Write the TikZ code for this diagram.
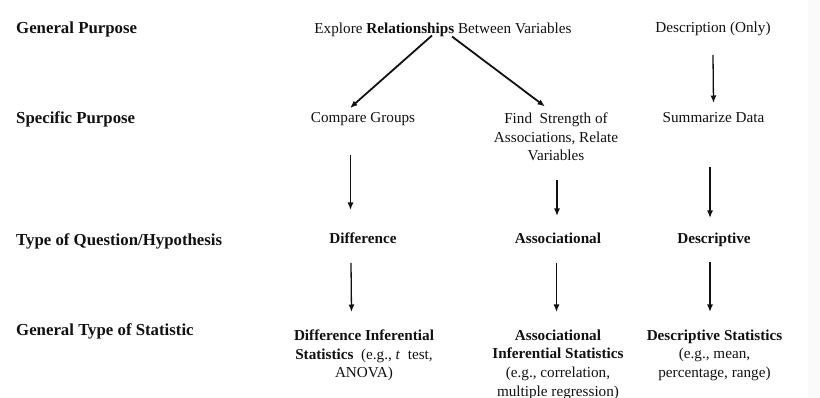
\documentclass[tikz,border=0pt]{standalone}
\usepackage{fontspec}
\setmainfont{Liberation Serif}
\usetikzlibrary{arrows.meta,calc}
\definecolor{ink}{HTML}{111111}
\begin{document}
\begin{tikzpicture}[x=1pt,y=1pt,
  lab/.style={anchor=base west,inner sep=0pt,font=\fontsize{16.8}{20}\selectfont\bfseries,text=ink},
  txt/.style={anchor=base,inner sep=0pt,font=\fontsize{15.2}{18.7}\selectfont,text=ink},
  mtxt/.style={anchor=north,inner sep=0pt,align=center,font=\fontsize{15.2}{18.7}\selectfont,text=ink},
  arr/.style={-{Latex[length=7.5pt,width=6pt]},line width=1.3pt,draw=ink},
  darr/.style={arr,line width=1.8pt}]
\useasboundingbox (0,0) rectangle (820,-398);
\fill[black!2] (808,0) rectangle (820,-398);
% row labels
\node[lab] (l1) at (16,-34) {General Purpose};
\node[lab] (l2) at (16,-124) {Specific Purpose};
\node[lab] (l3) at (16,-246) {Type of Question/Hypothesis};
\node[lab] (l4) at (16,-336) {General Type of Statistic};
% content
\node[txt] (explore) at (443,-33.5) {Explore \textbf{Relationships} Between Variables};
\node[txt] (desc) at (713,-33) {Description (Only)};
\node[txt] (compare) at (363,-123) {Compare Groups};
\node[mtxt] (find) at (556,-112.5) {Find\ \ Strength of\\Associations, Relate\\Variables};
\node[txt] (summ) at (713.5,-123) {Summarize Data};
\node[txt,font=\fontsize{15.2}{18.7}\selectfont\bfseries] (diff) at (363,-244) {Difference};
\node[txt,font=\fontsize{15.2}{18.7}\selectfont\bfseries] (assoc) at (558,-244) {Associational};
\node[txt,font=\fontsize{15.2}{18.7}\selectfont\bfseries] (descr) at (714,-244) {Descriptive};
\node[mtxt] (difinf) at (364,-329.5) {\textbf{Difference Inferential}\\\textbf{Statistics}\ \ (e.g., \textit{t}\ \ test,\\ANOVA)};
\node[mtxt] (assinf) at (558,-329.5) {\textbf{Associational}\\\textbf{Inferential Statistics}\\(e.g., correlation,\\multiple regression)};
\node[mtxt] (desstat) at (714.5,-329.5) {\textbf{Descriptive Statistics}\\(e.g., mean,\\percentage, range)};
% connectors
\draw[darr] ($(explore.base)+(-11,-2)$) -- ($(compare.base)+(-13,15)$);
\draw[darr] ($(explore.base)+(9,-3)$) -- ($(find.north)+(-11,6)$);
\draw[arr] ($(desc.base)+(0,-22)$) -- ($(summ.base)+(0,20)$);
\draw[arr] ($(compare.base)+(-12.5,-32)$) -- ($(diff.base)+(-12.5,34)$);
\draw[arr] ($(diff.base)+(-12,-19)$) -- ($(difinf.north)+(-12.5,17.5)$);
\draw[arr] ($(find.north)+(1,-67.5)$) -- ($(assoc.base)+(-1,28)$);
\draw[arr] ($(assoc.base)+(-1.5,-19)$) -- ($(assinf.north)+(-1.5,17.5)$);
\draw[arr] ($(summ.base)+(-3.5,-44)$) -- ($(descr.base)+(-4,26)$);
\draw[arr] ($(descr.base)+(-4,-18)$) -- ($(desstat.north)+(-4.5,17.5)$);
\end{tikzpicture}
\end{document}
